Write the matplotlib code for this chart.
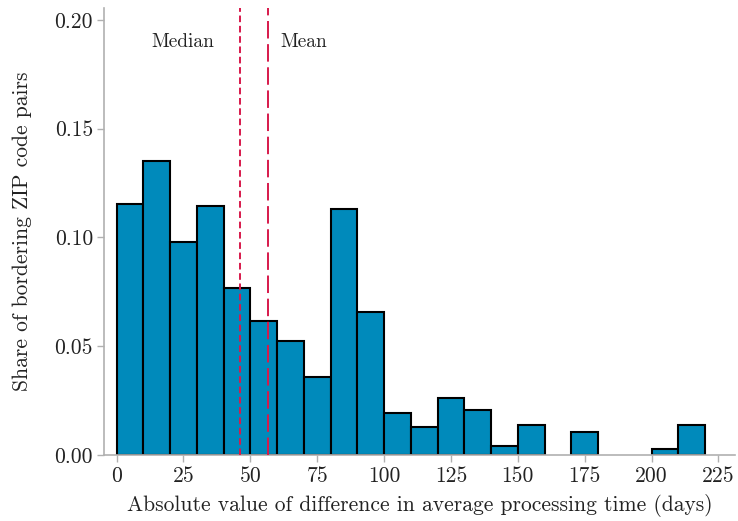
import matplotlib
matplotlib.use("Agg")
import matplotlib.pyplot as plt
import numpy as np

plt.rcParams['font.family'] = 'serif'
plt.rcParams['font.serif'] = ['cmr10']
plt.rcParams['mathtext.fontset'] = 'cm'
plt.rcParams['axes.formatter.use_mathtext'] = True

bin_edges = list(range(0, 230, 10))
shares = [0.1154, 0.1352, 0.0979, 0.1145, 0.0768, 0.0616, 0.0524, 0.0359,
          0.1131, 0.0657, 0.0195, 0.0130, 0.0264, 0.0207, 0.0041, 0.0139,
          0.0, 0.0107, 0.0, 0.0, 0.0029, 0.0139]
median_val = 46.2
mean_val = 56.6
xticks = [0, 25, 50, 75, 100, 125, 150, 175, 200, 225]
yticks = [0.00, 0.05, 0.10, 0.15, 0.20]

fig = plt.figure(figsize=(7.38, 5.21), dpi=100)
ax = fig.add_axes([104/738, 1-455/521, (735-104)/738, (455-8)/521])

lefts = np.array(bin_edges[:-1])
heights = np.array(shares)
mask = heights > 0
ax.bar(lefts[mask], heights[mask], width=10, align='edge', color='#008abb',
       edgecolor='black', linewidth=1.5, zorder=2)

red = '#d7194b'
ax.axvline(median_val, color=red, linestyle=(0, (3.4, 1.9)), linewidth=1.4, zorder=3)
ax.axvline(mean_val, color=red, linestyle=(0, (9.0, 2.9)), linewidth=1.4, zorder=3)
ax.text(median_val - 9.5, 0.19, 'Median', ha='right', va='center', fontsize=14, color='#222222')
ax.text(mean_val + 4.7, 0.19, 'Mean', ha='left', va='center', fontsize=14, color='#222222')

ax.set_xlim(-4.7, 231.2)
ax.set_ylim(0, 0.2055)
ax.set_xticks(xticks)
ax.set_yticks(yticks)
ax.set_yticklabels([f'{v:.2f}' for v in yticks])
ax.set_xticklabels([str(v) for v in xticks])
ax.tick_params(axis='both', colors='#b0b0b0', labelcolor='#222222', labelsize=15.5,
               length=5, width=1, pad=3)
for s in ['top', 'right']:
    ax.spines[s].set_visible(False)
for s in ['left', 'bottom']:
    ax.spines[s].set_color('#b0b0b0')
    ax.spines[s].set_linewidth(1.2)

ax.set_xlabel('Absolute value of difference in average processing time (days)', fontsize=15.5,
              color='#222222', labelpad=6)
ax.set_ylabel('Share of bordering ZIP code pairs', fontsize=15.5, color='#222222', labelpad=16)

fig.savefig('out.png', dpi=100)
